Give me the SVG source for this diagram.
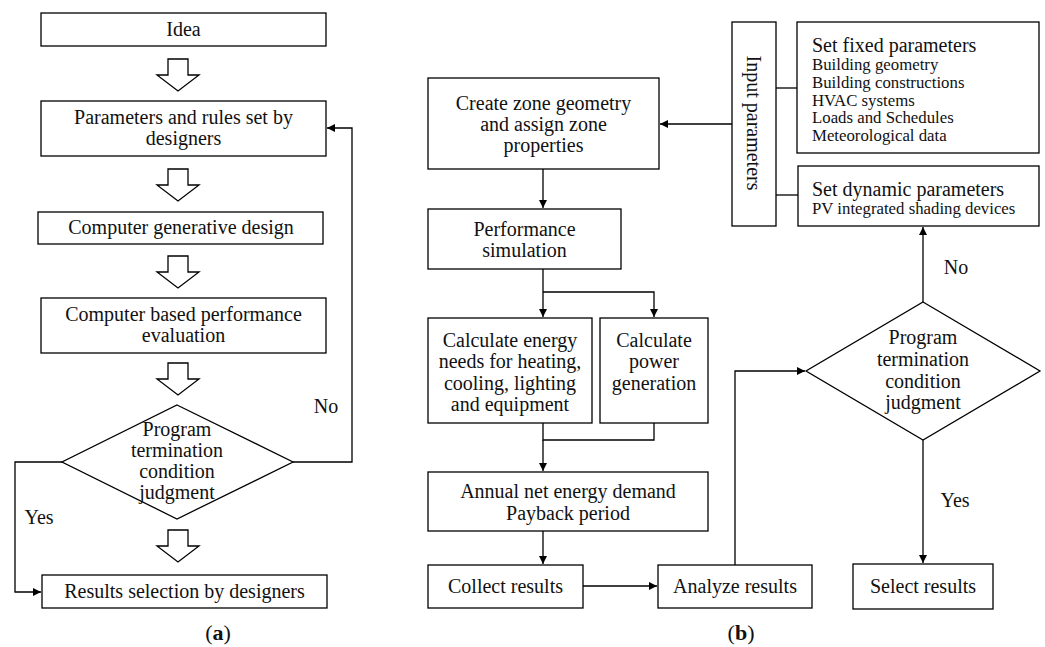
<svg xmlns="http://www.w3.org/2000/svg" xmlns:xlink="http://www.w3.org/1999/xlink" width="1045" height="647" viewBox="0 0 1045 647">
<style>
  .box { fill: #fff; stroke: #000; stroke-width: 1.3; }
  .hollow { fill: #fff; stroke: #000; stroke-width: 1.3; stroke-linejoin: miter; }
  .line { fill: none; stroke: #000; stroke-width: 1.3; }
  text { font-family: "Liberation Serif", "Times New Roman", serif; fill: #111; }
  .t { font-size: 20px; text-anchor: middle; }
  .tl { font-size: 20px; }
  .ts { font-size: 16.8px; }
  .lab { font-size: 22px; text-anchor: middle; }
</style>
<defs>
  <marker id="ah" viewBox="0 0 10 10" refX="10" refY="5" markerWidth="8" markerHeight="8" markerUnits="userSpaceOnUse" orient="auto">
    <path d="M0,0 L10,5 L0,10 z" fill="#000"/>
  </marker>
  <path id="harrow" class="hollow" d="M-10,0 h20 v16 h11 l-21,16 l-21,-16 h11 z"/>
</defs>
<rect width="1045" height="647" fill="#fff"/>

<!-- Panel (a) -->
<g id="a-idea"><rect class="box" x="41" y="13" width="285" height="33"/><text class="t" x="183.5" y="36">Idea</text></g>
<g id="a-params"><rect class="box" x="41" y="101" width="285" height="55"/><text class="t" x="183.5" y="124">Parameters and rules set by</text><text class="t" x="183.5" y="145">designers</text></g>
<g id="a-generative"><rect class="box" x="38" y="212" width="285" height="32"/><text class="t" x="181" y="234">Computer generative design</text></g>
<g id="a-evaluation"><rect class="box" x="41" y="298" width="285" height="55"/><text class="t" x="183.5" y="321">Computer based performance</text><text class="t" x="183.5" y="342">evaluation</text></g>
<g id="a-decision"><polygon class="box" points="177,405 293,462 177,519 62,462"/><text class="t" x="177" y="436">Program</text><text class="t" x="177" y="457">termination</text><text class="t" x="177" y="478">condition</text><text class="t" x="177" y="499">judgment</text></g>
<g id="a-results"><rect class="box" x="42" y="575" width="285" height="33"/><text class="t" x="184.5" y="598">Results selection by designers</text></g>

<g id="a-connectors">
  <use xlink:href="#harrow" x="178" y="59"/>
  <use xlink:href="#harrow" x="178" y="169"/>
  <use xlink:href="#harrow" x="178" y="256"/>
  <use xlink:href="#harrow" x="178" y="363"/>
  <use xlink:href="#harrow" x="178" y="530"/>
  <polyline class="line" points="293,462 352,462 352,128 327,128" marker-end="url(#ah)"/>
  <polyline class="line" points="62,462 15,462 15,592 41,592" marker-end="url(#ah)"/>
  <text class="t" x="326" y="413">No</text>
  <text class="t" x="39" y="524">Yes</text>
</g>
<text class="lab" x="218" y="640">(<tspan font-weight="bold">a</tspan>)</text>

<!-- Panel (b) -->
<g id="b-zone"><rect class="box" x="428" y="78" width="231" height="91"/><text class="t" x="543.5" y="110">Create zone geometry</text><text class="t" x="543.5" y="131">and assign zone</text><text class="t" x="543.5" y="152">properties</text></g>
<g id="b-input"><rect class="box" x="732" y="22" width="44" height="204"/><text class="t" transform="translate(747,123) rotate(90)" x="0" y="0">Input parameters</text></g>
<g id="b-fixed"><rect class="box" x="797" y="22" width="242" height="131"/>
  <text class="tl" x="812" y="52">Set fixed parameters</text>
  <text class="ts" x="812" y="70">Building geometry</text>
  <text class="ts" x="812" y="88">Building constructions</text>
  <text class="ts" x="812" y="106">HVAC systems</text>
  <text class="ts" x="812" y="123">Loads and Schedules</text>
  <text class="ts" x="812" y="141">Meteorological data</text>
</g>
<g id="b-dynamic"><rect class="box" x="798" y="166" width="241" height="60"/>
  <text class="tl" x="812" y="196">Set dynamic parameters</text>
  <text class="ts" x="812" y="214">PV integrated shading devices</text>
</g>
<g id="b-perf"><rect class="box" x="428" y="209" width="193" height="60"/><text class="t" x="524.5" y="236">Performance</text><text class="t" x="524.5" y="257">simulation</text></g>
<g id="b-energy"><rect class="box" x="428" y="318" width="164" height="105"/><text class="t" x="510" y="347">Calculate energy</text><text class="t" x="510" y="368">needs for heating,</text><text class="t" x="510" y="390">cooling, lighting</text><text class="t" x="510" y="411">and equipment</text></g>
<g id="b-power"><rect class="box" x="600" y="318" width="108" height="105"/><text class="t" x="654" y="347">Calculate</text><text class="t" x="654" y="368">power</text><text class="t" x="654" y="390">generation</text></g>
<g id="b-annual"><rect class="box" x="428" y="472" width="280" height="59"/><text class="t" x="568" y="498">Annual net energy demand</text><text class="t" x="568" y="520">Payback period</text></g>
<g id="b-collect"><rect class="box" x="428" y="565" width="155" height="43"/><text class="t" x="505.5" y="593">Collect results</text></g>
<g id="b-analyze"><rect class="box" x="658" y="565" width="154" height="43"/><text class="t" x="735" y="593">Analyze results</text></g>
<g id="b-decision"><polygon class="box" points="923,302 1040,371 923,440 806,371"/><text class="t" x="923" y="344">Program</text><text class="t" x="923" y="366">termination</text><text class="t" x="923" y="388">condition</text><text class="t" x="923" y="409">judgment</text></g>
<g id="b-select"><rect class="box" x="853" y="564" width="140" height="45"/><text class="t" x="923" y="593">Select results</text></g>

<g id="b-connectors">
  <line class="line" x1="732" y1="124" x2="660" y2="124" marker-end="url(#ah)"/>
  <line class="line" x1="776" y1="88" x2="797" y2="88"/>
  <line class="line" x1="776" y1="195" x2="798" y2="195"/>
  <line class="line" x1="543" y1="169" x2="543" y2="208" marker-end="url(#ah)"/>
  <line class="line" x1="543" y1="269" x2="543" y2="317" marker-end="url(#ah)"/>
  <polyline class="line" points="543,292 654,292 654,317" marker-end="url(#ah)"/>
  <polyline class="line" points="543,423 543,440 654,440 654,423"/>
  <line class="line" x1="543" y1="440" x2="543" y2="471" marker-end="url(#ah)"/>
  <line class="line" x1="543" y1="531" x2="543" y2="564" marker-end="url(#ah)"/>
  <line class="line" x1="583" y1="586" x2="657" y2="586" marker-end="url(#ah)"/>
  <polyline class="line" points="735,565 735,371 805,371" marker-end="url(#ah)"/>
  <line class="line" x1="923" y1="302" x2="923" y2="227" marker-end="url(#ah)"/>
  <line class="line" x1="923" y1="440" x2="923" y2="563" marker-end="url(#ah)"/>
  <text class="t" x="956" y="274">No</text>
  <text class="t" x="955" y="507">Yes</text>
</g>
<text class="lab" x="741" y="640">(<tspan font-weight="bold">b</tspan>)</text>
</svg>
